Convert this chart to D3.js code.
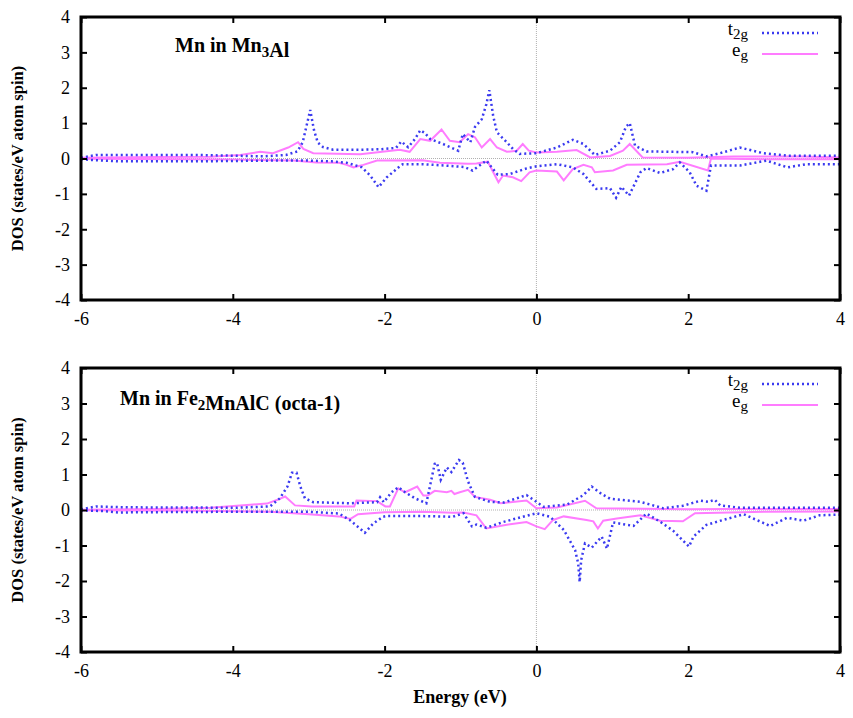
<!DOCTYPE html>
<html>
<head>
<meta charset="utf-8">
<script src="https://cdn.jsdelivr.net/npm/d3@7/dist/d3.min.js"></script>
<style>
  body { margin: 0; background: #fff; }
</style>
</head>
<body>
<div id="plotarea"></div>
<script>
// energy range and ticks
var xTicks = [-6, -4, -2, 0, 2, 4];
var yTicks = [-4, -3, -2, -1, 0, 1, 2, 3, 4];

// Mn in Mn3Al : [energy (eV), DOS]
var mn3alT2gUp = [[-6,0.02],[-5.8,0.1],[-5.5,0.1],[-5,0.1],[-4.5,0.1],[-4,0.08],[-3.6,0.06],[-3.3,0.1],[-3.15,0.2],[-3.08,0.45],[-3.02,1.0],[-2.98,1.37],[-2.93,0.8],[-2.88,0.45],[-2.81,0.32],[-2.68,0.25],[-2.3,0.25],[-2.06,0.26],[-1.85,0.3],[-1.78,0.48],[-1.69,0.32],[-1.6,0.55],[-1.53,0.8],[-1.47,0.72],[-1.4,0.55],[-1.23,0.41],[-1.03,0.22],[-0.97,0.69],[-0.87,0.46],[-0.81,0.89],[-0.72,1.11],[-0.66,1.53],[-0.62,1.93],[-0.57,1.21],[-0.52,0.74],[-0.39,0.46],[-0.31,0.27],[-0.22,0.13],[0,0.15],[0.27,0.31],[0.48,0.53],[0.62,0.41],[0.77,0.1],[0.97,0.22],[1.1,0.46],[1.18,0.9],[1.23,1.0],[1.3,0.36],[1.45,0.2],[2.06,0.18],[2.24,0.06],[2.42,0.15],[2.68,0.31],[2.99,0.15],[3.3,0.08],[4,0.08]];
var mn3alT2gDn = [[-6,-0.02],[-5.8,-0.05],[-5.5,-0.08],[-5,-0.08],[-4.5,-0.08],[-4,-0.07],[-3.5,-0.06],[-3,-0.06],[-2.7,-0.08],[-2.5,-0.12],[-2.3,-0.25],[-2.19,-0.48],[-2.08,-0.81],[-1.97,-0.53],[-1.8,-0.22],[-1.76,-0.16],[-1.5,-0.16],[-1.2,-0.2],[-0.95,-0.24],[-0.84,-0.34],[-0.66,-0.06],[-0.51,-0.46],[-0.35,-0.44],[-0.13,-0.28],[0,-0.22],[0.27,-0.16],[0.48,-0.25],[0.62,-0.44],[0.79,-0.86],[0.97,-0.84],[1.05,-1.11],[1.12,-0.8],[1.22,-1.05],[1.37,-0.39],[1.45,-0.27],[1.63,-0.41],[1.8,-0.3],[1.89,-0.11],[2.02,-0.39],[2.11,-0.77],[2.24,-0.91],[2.3,-0.2],[2.68,-0.2],[3.03,-0.06],[3.31,-0.25],[3.56,-0.16],[4,-0.16]];
var mn3alEgUp = [[-6,0.02],[-5,0.04],[-4.3,0.05],[-3.9,0.1],[-3.64,0.19],[-3.47,0.15],[-3.27,0.31],[-3.14,0.46],[-3.07,0.27],[-2.94,0.15],[-2.32,0.12],[-1.8,0.25],[-1.67,0.19],[-1.53,0.55],[-1.4,0.5],[-1.25,0.82],[-1.14,0.5],[-1.01,0.46],[-0.9,0.69],[-0.81,0.6],[-0.72,0.31],[-0.61,0.55],[-0.52,0.31],[-0.39,0.19],[-0.26,0.22],[-0.18,0.41],[-0.1,0.22],[0,0.17],[0.27,0.19],[0.53,0.24],[0.71,0.03],[0.97,0.07],[1.14,0.22],[1.23,0.41],[1.4,0.03],[2,0.02],[2.6,0.06],[3.5,0.06],[4,0.03]];
var mn3alEgDn = [[-6,-0.01],[-4,-0.03],[-3.2,-0.06],[-2.9,-0.11],[-2.6,-0.12],[-2.5,-0.18],[-2.41,-0.25],[-2.28,-0.18],[-2.1,-0.06],[-1.5,-0.05],[-1.27,-0.12],[-0.9,-0.15],[-0.79,-0.14],[-0.64,-0.09],[-0.5,-0.67],[-0.44,-0.48],[-0.31,-0.53],[-0.2,-0.64],[-0.09,-0.39],[0,-0.34],[0.27,-0.37],[0.36,-0.62],[0.48,-0.3],[0.62,-0.18],[0.73,-0.25],[0.77,-0.39],[1.01,-0.34],[1.19,-0.18],[1.72,-0.16],[1.89,-0.09],[2.26,-0.34],[2.3,0.0],[3,-0.02],[4,-0.02]];

// Mn in Fe2MnAlC (octa-1)
var octaT2gUp = [[-6,0.02],[-5.8,0.1],[-5.5,0.08],[-5,0.07],[-4.5,0.07],[-4,0.06],[-3.51,0.1],[-3.38,0.33],[-3.28,0.66],[-3.22,1.05],[-3.16,1.05],[-3.11,0.66],[-3.05,0.33],[-2.94,0.22],[-2.46,0.19],[-2.1,0.22],[-2.06,0.36],[-2.01,0.22],[-1.91,0.5],[-1.82,0.64],[-1.73,0.5],[-1.6,0.33],[-1.45,0.19],[-1.34,1.3],[-1.31,1.33],[-1.26,0.85],[-1.18,1.2],[-1.12,1.07],[-1.02,1.41],[-0.97,1.33],[-0.9,0.8],[-0.81,0.37],[-0.61,0.23],[-0.43,0.21],[-0.13,0.42],[0,0.23],[0.09,0.09],[0.4,0.15],[0.62,0.42],[0.73,0.66],[0.86,0.45],[0.97,0.32],[1.37,0.23],[1.67,0.05],[1.93,0.12],[2.16,0.26],[2.27,0.23],[2.35,0.29],[2.42,0.13],[2.7,0.06],[4,0.06]];
var octaT2gDn = [[-6,-0.01],[-5.7,-0.03],[-5.5,-0.07],[-5,-0.06],[-4,-0.05],[-3,-0.05],[-2.6,-0.1],[-2.46,-0.28],[-2.26,-0.64],[-2.15,-0.38],[-2.02,-0.19],[-1.97,-0.17],[-1.53,-0.17],[-1.1,-0.19],[-0.96,-0.09],[-0.85,-0.46],[-0.79,-0.41],[-0.66,-0.5],[-0.44,-0.34],[-0.18,-0.19],[0,-0.09],[0.18,-0.19],[0.36,-0.56],[0.51,-1.13],[0.55,-1.5],[0.57,-2.03],[0.59,-1.41],[0.64,-0.94],[0.73,-1.06],[0.86,-0.75],[0.93,-1.09],[1.01,-0.35],[1.28,-0.45],[1.45,-0.1],[1.63,-0.33],[1.8,-0.58],[2.01,-1.03],[2.07,-0.75],[2.24,-0.42],[2.46,-0.28],[2.73,-0.12],[3.08,-0.45],[3.3,-0.22],[3.52,-0.3],[3.73,-0.15],[4,-0.13]];
var octaEgUp = [[-6,0.01],[-5,0.03],[-4.3,0.06],[-3.77,0.15],[-3.55,0.18],[-3.42,0.28],[-3.31,0.38],[-3.18,0.13],[-2.96,0.1],[-2.4,0.1],[-2.37,0.27],[-2.1,0.25],[-1.99,0.1],[-1.93,0.1],[-1.82,0.61],[-1.73,0.5],[-1.57,0.66],[-1.49,0.41],[-1.43,0.41],[-1.34,0.54],[-1.18,0.5],[-1.12,0.54],[-1.08,0.45],[-1.01,0.5],[-0.9,0.57],[-0.81,0.37],[-0.61,0.29],[-0.47,0.19],[-0.13,0.27],[0,0.05],[0.27,0.07],[0.64,0.26],[0.79,0.05],[2,0.02],[2.5,0.03],[4,0.03]];
var octaEgDn = [[-6,-0.01],[-4.5,-0.02],[-3.5,-0.05],[-3,-0.12],[-2.6,-0.18],[-2.45,-0.25],[-2.35,-0.12],[-2,-0.06],[-1.5,-0.05],[-1.1,-0.08],[-0.96,-0.07],[-0.79,-0.15],[-0.66,-0.52],[-0.37,-0.41],[-0.13,-0.34],[0,-0.46],[0.11,-0.54],[0.22,-0.28],[0.36,-0.18],[0.66,-0.28],[0.75,-0.32],[0.81,-0.52],[0.88,-0.3],[1.06,-0.24],[1.37,-0.15],[1.63,-0.3],[1.93,-0.32],[2.09,-0.09],[3,-0.05],[4,-0.04]];

var width = 853, height = 718;
var serif = "'Liberation Serif'";
var svg = d3.select("#plotarea").append("svg")
  .attr("width", width).attr("height", height);

var t2gColor = "#3a3af0", egColor = "#ff7cff";

function drawPanel(top, bottom, title, titleY, t2g, eg) {
  var x = d3.scaleLinear().domain([-6, 4]).range([81, 840]);
  var y = d3.scaleLinear().domain([-4, 4]).range([bottom, top]);
  var g = svg.append("g");

  // zero lines
  g.append("line").attr("x1", x(-6)).attr("x2", x(4)).attr("y1", y(0)).attr("y2", y(0))
    .attr("stroke", "#b0b0b0").attr("stroke-width", 1).attr("stroke-dasharray", "1,1");
  g.append("line").attr("x1", x(0)).attr("x2", x(0)).attr("y1", y(-4)).attr("y2", y(4))
    .attr("stroke", "#b0b0b0").attr("stroke-width", 1).attr("stroke-dasharray", "1,1");

  var line = d3.line()
    .x(function(d) { return x(d[0]); })
    .y(function(d) { return y(d[1]); });

  eg.forEach(function(s) {
    g.append("path").attr("d", line(s)).attr("fill", "none")
      .attr("stroke", egColor).attr("stroke-width", 2);
  });
  t2g.forEach(function(s) {
    g.append("path").attr("d", line(s)).attr("fill", "none")
      .attr("stroke", t2gColor).attr("stroke-width", 2.5)
      .attr("stroke-dasharray", "2,3");
  });

  // axes, ticks pointing inward, mirrored
  var xb = g.append("g").attr("transform", "translate(0," + bottom + ")")
    .call(d3.axisBottom(x).tickValues(xTicks).tickSizeInner(-6).tickSizeOuter(0)
      .tickPadding(12).tickFormat(function(d) { return String(d); }));
  var xt = g.append("g").attr("transform", "translate(0," + top + ")")
    .call(d3.axisTop(x).tickValues(xTicks).tickSizeInner(-6).tickSizeOuter(0)
      .tickFormat(""));
  var yl = g.append("g").attr("transform", "translate(81,0)")
    .call(d3.axisLeft(y).tickValues(yTicks).tickSizeInner(-6).tickSizeOuter(0)
      .tickPadding(11).tickFormat(function(d) { return String(d); }));
  var yr = g.append("g").attr("transform", "translate(840,0)")
    .call(d3.axisRight(y).tickValues(yTicks).tickSizeInner(-6).tickSizeOuter(0)
      .tickFormat(""));
  [xb, xt, yl, yr].forEach(function(a) {
    a.attr("font-family", "Liberation Serif").attr("font-size", 18);
    a.select(".domain").remove();
    a.selectAll(".tick line").attr("stroke", "#000").attr("stroke-width", 2);
    a.selectAll(".tick text").style("font-family", serif)
      .style("font-size", "18px").attr("fill", "#000");
  });

  g.append("rect").attr("x", 81).attr("y", top).attr("width", 759).attr("height", bottom - top)
    .attr("fill", "none").attr("stroke", "#000").attr("stroke-width", 3);

  // y label
  g.append("text")
    .attr("transform", "translate(23," + ((top + bottom) / 2) + ") rotate(-90)")
    .attr("text-anchor", "middle").style("font-family", serif)
    .style("font-weight", "bold").style("font-size", "16.5px")
    .text("DOS (states/eV atom spin)");

  // title with subscripts
  var t = g.append("text").attr("x", title.x).attr("y", titleY)
    .style("font-family", serif).style("font-weight", "bold").style("font-size", "20px");
  title.parts.forEach(function(p) {
    if (p.sub) {
      t.append("tspan").attr("dy", 5).style("font-size", "15px").text(p.text);
      t.append("tspan").attr("dy", -5).text("");
    } else {
      t.append("tspan").text(p.text);
    }
  });

  // legend
  var legend = [
    { main: "t", sub: "2g", color: t2gColor, dash: "2,3", w: 2.5 },
    { main: "e", sub: "g", color: egColor, dash: null, w: 2 }
  ];
  legend.forEach(function(l, i) {
    var ly = top + 16 + i * 21;
    var lt = g.append("text").attr("x", 748).attr("y", ly + 2)
      .attr("text-anchor", "end").style("font-family", serif).style("font-size", "19px");
    lt.append("tspan").text(l.main);
    lt.append("tspan").attr("dy", 4).style("font-size", "15px").text(l.sub);
    g.append("line").attr("x1", 762).attr("x2", 818).attr("y1", ly).attr("y2", ly)
      .attr("stroke", l.color).attr("stroke-width", l.w)
      .attr("stroke-dasharray", l.dash);
  });
}

drawPanel(17, 300, { x: 175, parts: [{ text: "Mn in Mn" }, { text: "3", sub: true }, { text: "Al" }] }, 52,
  [mn3alT2gUp, mn3alT2gDn], [mn3alEgUp, mn3alEgDn]);
drawPanel(368, 652, { x: 120, parts: [{ text: "Mn in Fe" }, { text: "2", sub: true }, { text: "MnAlC (octa-1)" }] }, 405,
  [octaT2gUp, octaT2gDn], [octaEgUp, octaEgDn]);

svg.append("text").attr("x", 460).attr("y", 703).attr("text-anchor", "middle")
  .style("font-family", serif).style("font-weight", "bold").style("font-size", "18px")
  .text("Energy (eV)");
</script>
</body>
</html>
